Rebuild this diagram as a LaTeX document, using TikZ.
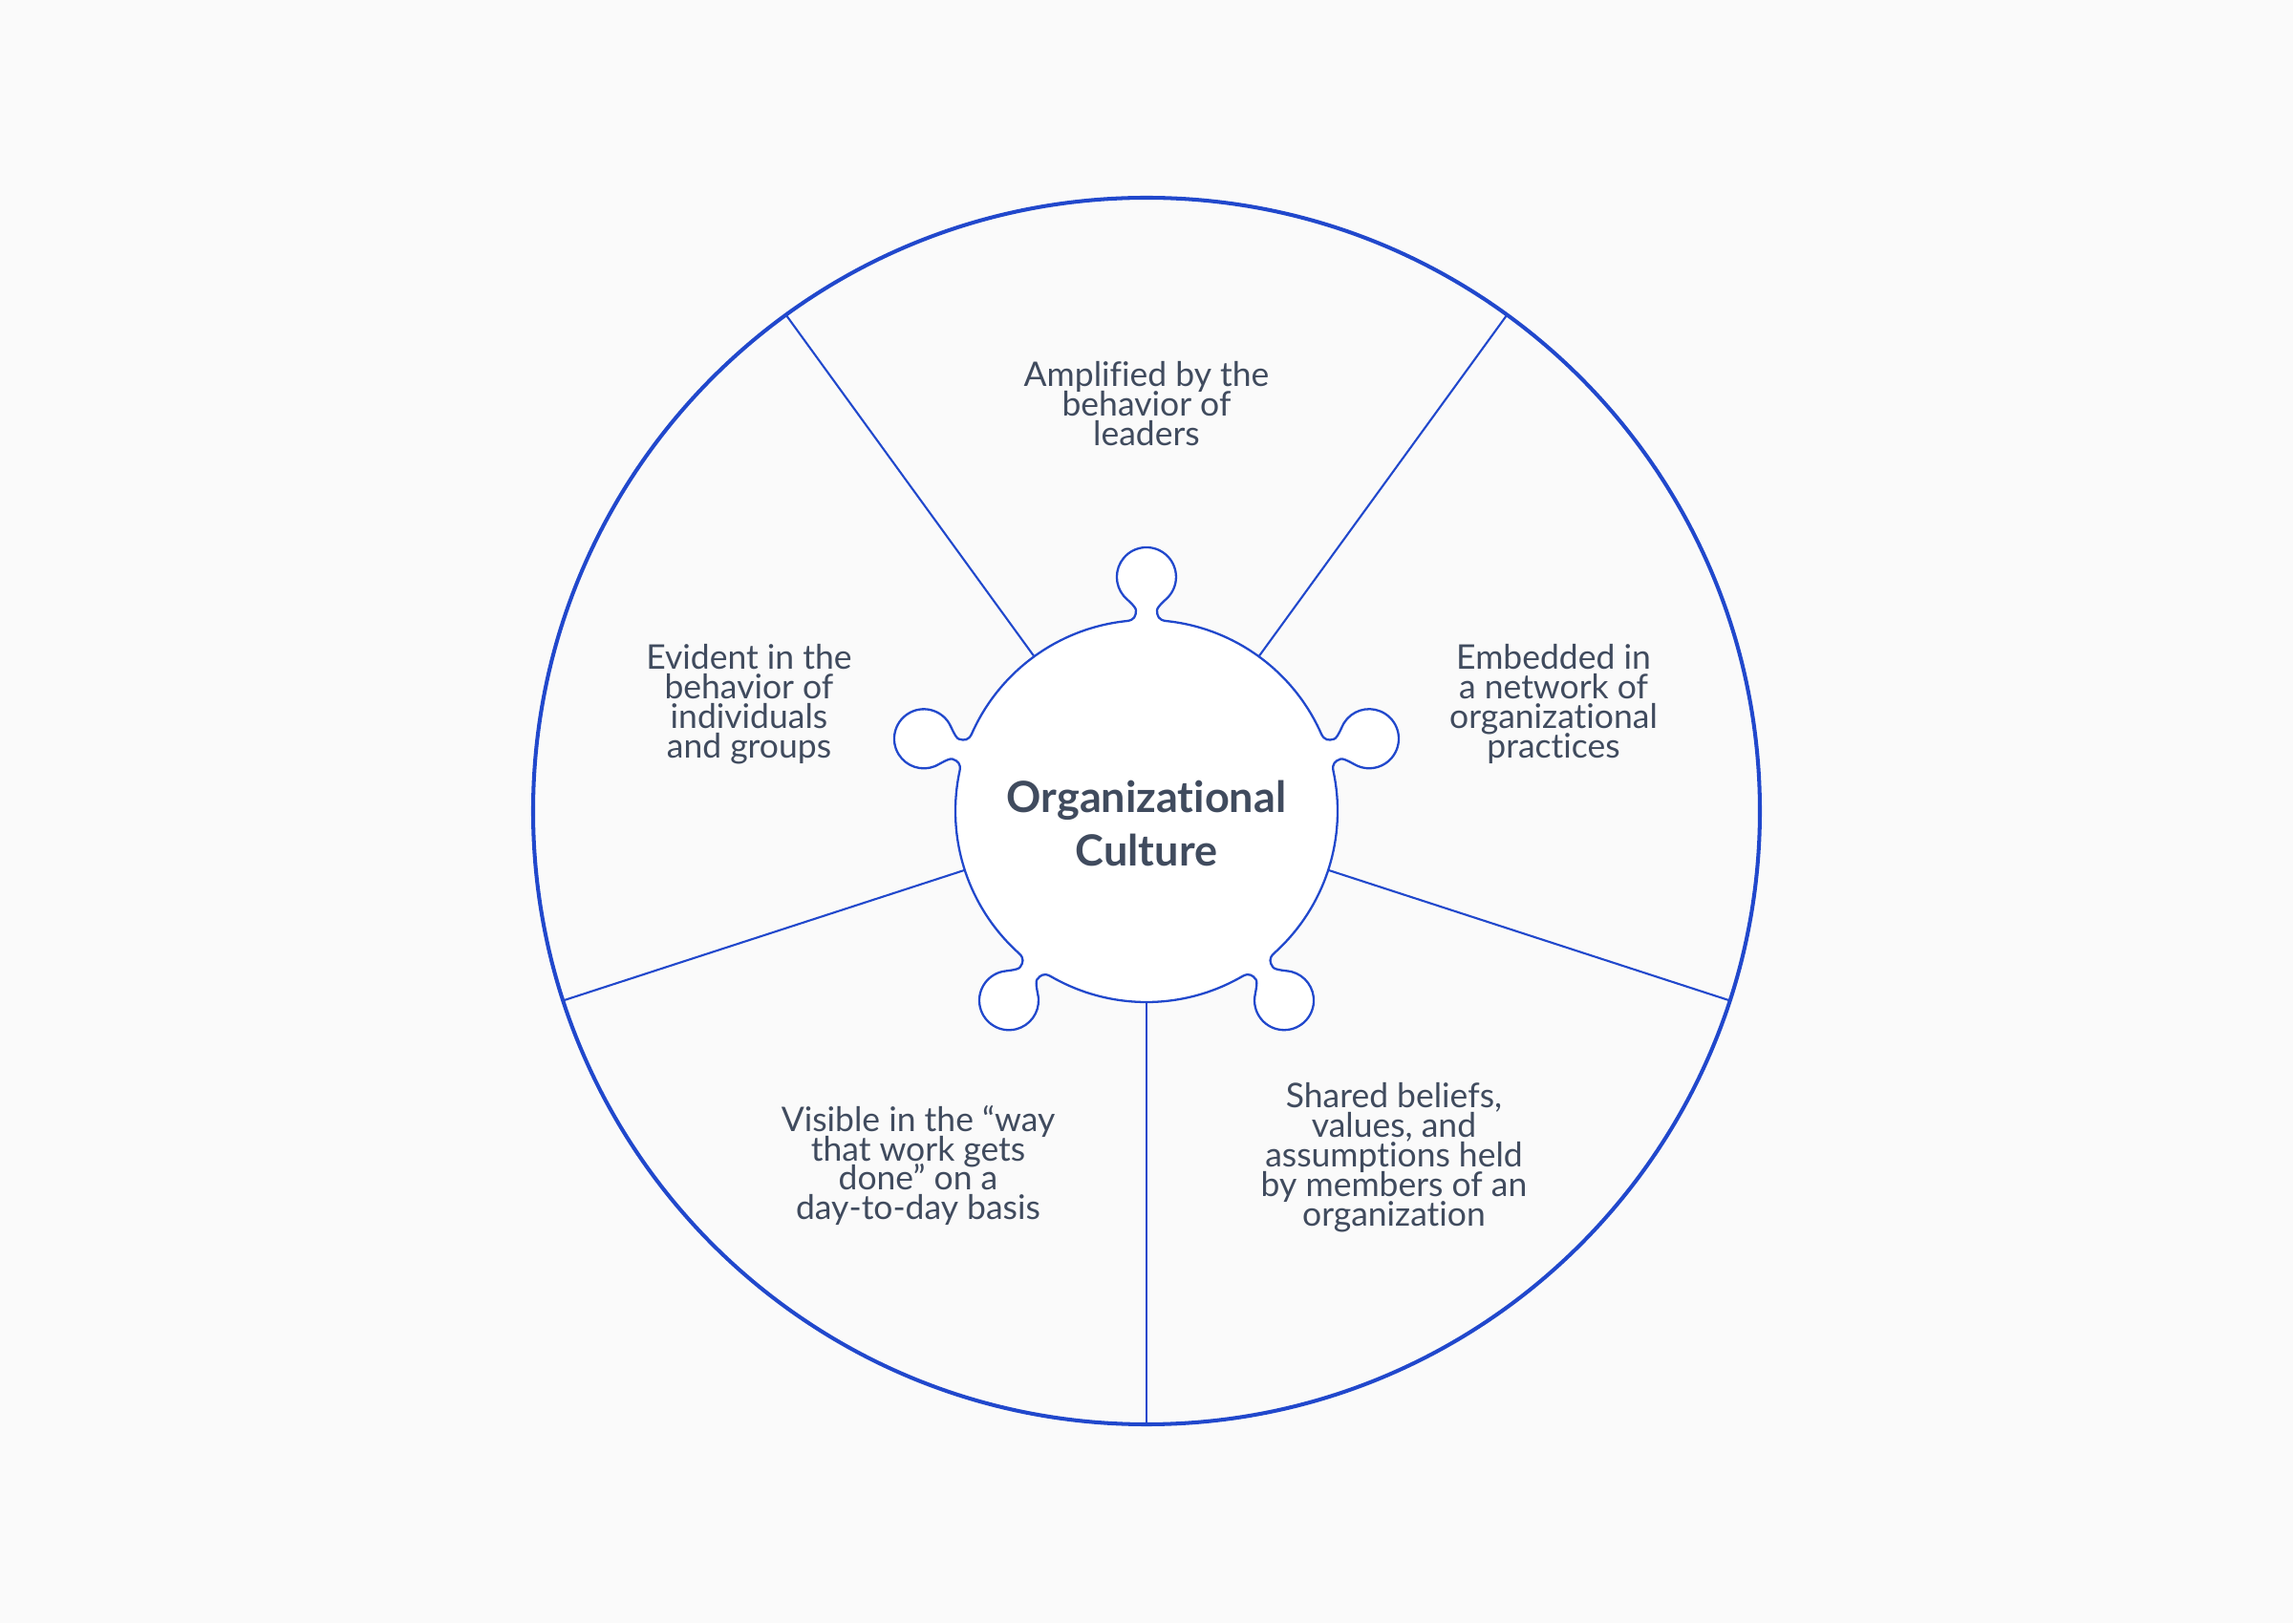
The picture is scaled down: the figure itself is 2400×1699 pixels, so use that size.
\documentclass[tikz,border=0pt]{standalone}
\usepackage{fontspec}
\setmainfont{Lato}[Ligatures={NoCommon,NoContextual}]
\definecolor{bg}{HTML}{FAFAFA}
\definecolor{lineblue}{HTML}{2148CC}
\definecolor{txt}{HTML}{404B5E}
\newcommand\tightlines{\lineskiplimit=-100pt\relax\lineskip=0pt\relax}
\begin{document}
\begin{tikzpicture}[x=0.1mm,y=0.1mm,
  bodytext/.style={text=txt,align=center,font=\fontsize{10.1}{8.8}\selectfont\tightlines,inner sep=0pt},
  titletext/.style={text=txt,align=center,font=\bfseries\fontsize{12.8}{16.2}\selectfont\tightlines,inner sep=0pt},
  outerring/.style={draw=lineblue,line width=1.15pt},
  spoke/.style={draw=lineblue,line width=0.6pt},
  hub/.style={draw=lineblue,line width=0.65pt,fill=white}]
\useasboundingbox (-1200,-850) rectangle (1200,849);
\fill[bg] (-1200,-850) rectangle (1200,849);
% outer circle
\draw[outerring] (0,0) circle[radius=642];
% spokes
\foreach \a/\n in {126/a,54/b,-18/c,198/d,270/e}{
  \coordinate (in\n) at (\a:200);
  \coordinate (out\n) at (\a:642);
  \draw[spoke] (in\n) -- (out\n);
}
% hub with knobs
\draw[hub] (84.26:200)
  \foreach \t in {90,162,234,306,378}{
    .. controls ({\t-3.72}:200.42) and ({\t-3.09}:204.3) .. ({\t-3.0}:210.29)
    .. controls ({\t-2.94}:214.28) and ({\t-5.29}:222.25) .. ({\t-6.01}:226.34)
    arc[start angle={\t-130}, end angle={\t+130}, radius=31]
    .. controls ({\t+5.29}:222.25) and ({\t+2.94}:214.28) .. ({\t+3.0}:210.29)
    .. controls ({\t+3.09}:204.3) and ({\t+3.72}:200.42) .. ({\t+5.74}:200)
    arc[start angle={\t+5.74}, end angle={\t+66.26}, radius=200]
  } -- cycle;
% texts
\node[titletext] (title) at (0,-13) {Organizational\\Culture};
\node[bodytext] (top) at (0,426) {Amplified by the\\behavior of\\leaders};
\node[bodytext] (left) at (-416,112) {Evident in the\\behavior of\\individuals\\and groups};
\node[bodytext] (right) at (426,112) {Embedded in\\a network of\\organizational\\practices};
\node[bodytext] (bl) at (-239,-371) {Visible in the “way\\that work gets\\done” on a\\day-to-day basis};
\node[bodytext] (br) at (259,-363) {Shared beliefs,\\values, and\\assumptions held\\by members of an\\organization};
\end{tikzpicture}
\end{document}
